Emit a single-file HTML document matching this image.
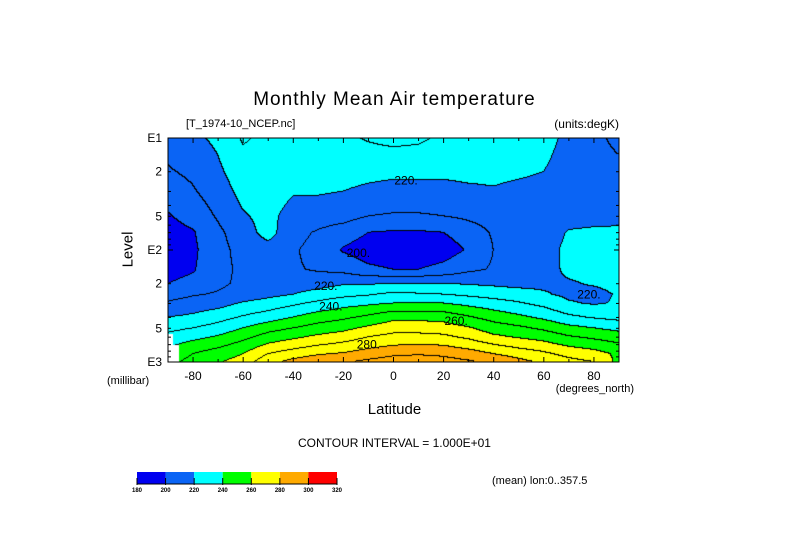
<!DOCTYPE html>
<html><head><meta charset="utf-8">
<style>
body{margin:0;background:#fff;width:789px;height:558px;overflow:hidden;position:relative;font-family:"Liberation Sans",sans-serif;}
.t{position:absolute;white-space:nowrap;color:#000;}
canvas{position:absolute;left:168px;top:138px;}
svg{position:absolute;left:0;top:0;}
</style></head>
<body>
<div class="t" style="left:0;width:789px;text-align:center;top:89px;font-size:19px;letter-spacing:1px;">Monthly Mean Air temperature</div>
<div class="t" style="left:186px;top:118px;font-size:11px;">[T_1974-10_NCEP.nc]</div>
<div class="t" style="right:170px;top:117px;font-size:12px;">(units:degK)</div>
<div class="t" style="left:110px;top:241px;font-size:15px;transform:rotate(-90deg);">Level</div>
<div class="t" style="left:107px;top:375px;font-size:11px;">(millibar)</div>
<div class="t" style="right:155px;top:383px;font-size:11px;">(degrees_north)</div>
<div class="t" style="left:0;width:789px;text-align:center;top:401px;font-size:15px;">Latitude</div>
<div class="t" style="left:0;width:789px;text-align:center;top:436px;font-size:12px;">CONTOUR INTERVAL = 1.000E+01</div>
<div class="t" style="left:492px;top:475px;font-size:11px;">(mean) lon:0..357.5</div>
<canvas id="cv" width="451" height="224"></canvas>
<svg id="sv" width="789" height="558"></svg>
<script>
const lats=[-90,-80,-70,-60,-50,-40,-30,-20,-10,0,10,20,30,40,50,60,70,80,90];
const levels=[10,20,30,50,70,100,150,200,250,300,400,500,600,700,850,1000];
const T_m90=[214,209,205,199,196,194,196,200,206,211,220,227,233,238,244,247];
const T_m80=[218,212,209,204,199,198,199,203,209,214,222,230,237,243,250,253];
const T_m70=[222,218,215,211,208,207,207,208,211,216,226,234,241,247,255,259];
const T_m60=[231,226,223,219,215,213,212,212,214,221,231,240,247,253,260,264];
const T_m50=[228,227,225,223,224,216,212,213,217,224,235,246,254,261,270,277];
const T_m40=[226,224,221,216,213,211,211,214,220,228,240,250,258,265,275,283];
const T_m30=[227,224,221,215,209,207,209,216,224,232,245,254,262,269,279,287];
const T_m20=[228,224,220,214,205,199,207,219,227,236,248,257,265,272,281,289];
const T_m10=[231,223,218,210,200,195,202,219,229,238,252,262,270,276,285,292];
const T_0=[233,222,217,209,199,193,200,220,232,240,257,266,273,279,288,295];
const T_10=[232,222,217,209,199,193,200,220,231,240,257,266,273,280,289,296];
const T_20=[228,222,217,210,200,195,203,220,230,240,256,265,272,279,288,294];
const T_30=[226,223,218,212,205,201,208,219,228,237,251,261,268,275,285,291];
const T_40=[226,223,219,214,211,210,211,218,226,234,246,255,262,270,280,288];
const T_50=[226,222,217,213,211,211,212,217,224,231,242,252,259,266,276,283];
const T_60=[226,220,216,213,213,215,216,218,221,227,238,248,256,263,272,278];
const T_70=[216,213,213,215,221,223,222,219,218,221,232,243,251,258,267,273];
const T_80=[212,213,214,216,222,224,223,221,217,219,229,240,248,255,264,270];
const T_90=[208,212,214,217,222,225,224,223,221,221,227,237,245,251,258,257];
const field=[T_m90,T_m80,T_m70,T_m60,T_m50,T_m40,T_m30,T_m20,T_m10,T_0,T_10,T_20,T_30,T_40,T_50,T_60,T_70,T_80,T_90];
const barLevels=[180,200,220,240,260,280,300,320];
const barColors=["#0000f0","#0a64f5","#00ffff","#00ff00","#ffff00","#ffaa00","#ff0000"];
const latTicks=[-80,-60,-40,-20,0,20,40,60,80];
const levTicks=[10,20,50,100,200,500,1000];
const levTickLabels=["E1","2","5","E2","2","5","E3"];
const contourLabels=[["220.",5,24],["200.",-14,106],["220.",-27,210],["240.",-25,320],["260.",25,430],["280.",-10,700],["220.",78,250]];

const X0=168,X1=619,Y0=138,Y1=362;
const xs=lat=>X0+(lat+90)/180*(X1-X0);
const ys=p=>Y0+(Math.log10(p)-1)/2*(Y1-Y0);
function sample(lat,p){
  let fi=(lat+90)/10; fi=Math.max(0,Math.min(lats.length-1.0001,fi));
  const i=Math.floor(fi),fx=fi-i;
  const lp=Math.log10(p);
  let j=0; while(j<levels.length-2 && Math.log10(levels[j+1])<lp) j++;
  const a=Math.log10(levels[j]),b=Math.log10(levels[j+1]);
  let fy=(lp-a)/(b-a); fy=Math.max(0,Math.min(1,fy));
  const v00=field[i][j],v01=field[i][j+1],v10=field[i+1][j],v11=field[i+1][j+1];
  return (v00*(1-fx)+v10*fx)*(1-fy)+(v01*(1-fx)+v11*fx)*fy;
}
const W=451,H=224;
const cv=document.getElementById('cv'),ctx=cv.getContext('2d');
const img=ctx.createImageData(W,H);
const vals=new Float32Array(W*H);
for(let y=0;y<H;y++)for(let x=0;x<W;x++){
  const lat=(x+0.5)/W*180-90;const p=Math.pow(10,1+(y+0.5)/H*2);
  vals[y*W+x]=sample(lat,p);
}
function hex(c){return [parseInt(c.slice(1,3),16),parseInt(c.slice(3,5),16),parseInt(c.slice(5,7),16)];}
for(let y=0;y<H;y++)for(let x=0;x<W;x++){
  const k=y*W+x,v=vals[k];
  let bi=Math.floor((v-180)/20);bi=Math.max(0,Math.min(6,bi));
  let col=hex(barColors[bi]);
  const c=Math.floor(v/10);
  if((x+1<W&&Math.floor(vals[k+1]/10)!==c)||(y+1<H&&Math.floor(vals[k+W]/10)!==c)) col=[0,0,0];
  const lat=(x+0.5)/W*180-90;const p=Math.pow(10,1+(y+0.5)/H*2);
  if((lat<-88&&p>560)||(lat<-85.5&&p>700)) col=[255,255,255];
  img.data[k*4]=col[0];img.data[k*4+1]=col[1];img.data[k*4+2]=col[2];img.data[k*4+3]=255;
}
ctx.putImageData(img,0,0);

const NS="http://www.w3.org/2000/svg",sv=document.getElementById('sv');
function el(tag,attrs,txt){const e=document.createElementNS(NS,tag);for(const k in attrs)e.setAttribute(k,attrs[k]);if(txt!==undefined)e.textContent=txt;sv.appendChild(e);return e;}
let f=el('rect',{x:X0,y:Y0,width:X1-X0,height:Y1-Y0,fill:'none',stroke:'#000','stroke-width':1});


for(let lat=-80;lat<=80;lat+=10){
  const x=xs(lat);
  const t1=el('line',{x1:x,x2:x,y1:Y0,y2:Y0+(lat%20===0?5:3),stroke:'#000'});
  
  
  const t2=el('line',{x1:x,x2:x,y1:Y1,y2:Y1-(lat%20===0?5:3),stroke:'#000'});
  
  
}
for(let d=1;d<=2;d++)for(let m=1;m<=10;m++){
  if(Math.pow(10,d)*m>1000)continue;
  const y=ys(Math.pow(10,d)*m);
  const L=(m===1||m===10)?5:3;
  const a=el('line',{x1:X0,x2:X0+L,y1:y,y2:y,stroke:'#000'});
  
  
  const b=el('line',{x1:X1,x2:X1-L,y1:y,y2:y,stroke:'#000'});
  
  
}
latTicks.forEach(l=>{
  const t=el('text',{x:xs(l),y:380,'font-size':12,'text-anchor':'middle','font-family':'Liberation Sans'},String(l));
  
  
});
levTicks.forEach((p,i)=>{
  const t=el('text',{x:162,y:ys(p)+4,'font-size':12,'text-anchor':'end','font-family':'Liberation Sans'},levTickLabels[i]);
  
  
});
contourLabels.forEach(c=>{
  const t=el('text',{x:xs(c[1]),y:ys(c[2])+4,'font-size':12,'text-anchor':'middle','font-family':'Liberation Sans'},c[0]);
  
  
});
const BX0=137,BX1=337,BY=472,BH=12,bw=(BX1-BX0)/barColors.length;
barColors.forEach((c,i)=>{
  const r=el('rect',{x:BX0+i*bw,y:BY,width:bw,height:BH,fill:c});
  
  
});
barLevels.forEach((v,i)=>{
  const x=BX0+i*bw;
  const tk=el('line',{x1:x,x2:x,y1:BY+6,y2:BY+BH+1,stroke:'#000','stroke-width':1});
  
  
  const t=el('text',{x:x,y:BY+BH+8,'font-size':6,'text-anchor':'middle','font-family':'Liberation Sans','font-weight':'bold'},String(v));
  
  
});
const bl=el('line',{x1:BX0,x2:BX1,y1:BY+BH,y2:BY+BH,stroke:'#000'});


</script>
</body></html>
